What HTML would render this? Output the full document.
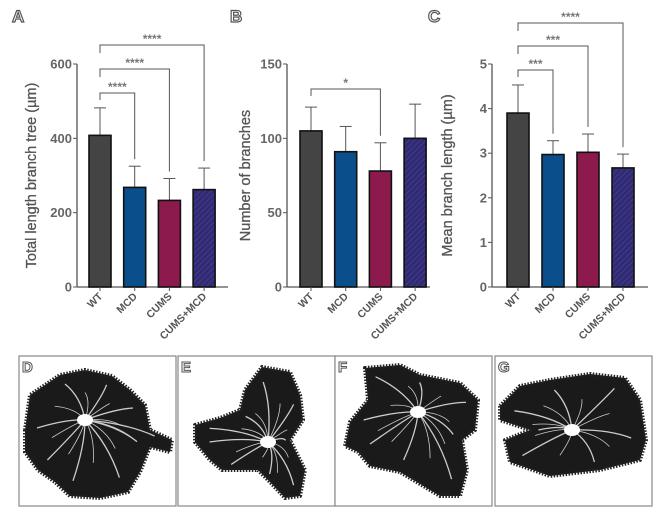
<!DOCTYPE html>
<html><head><meta charset="utf-8"><style>
html,body{margin:0;padding:0;background:#fff;}
svg{display:block;font-family:"Liberation Sans",Arial,sans-serif;}
</style></head><body>
<svg id="fig" width="671" height="521" viewBox="0 0 671 521" xmlns="http://www.w3.org/2000/svg">
<defs>
<pattern id="hatch" patternUnits="userSpaceOnUse" width="4" height="4" patternTransform="rotate(45)">
<rect width="4" height="4" fill="#2f2a72"/><line x1="0" y1="0" x2="0" y2="4" stroke="#4a3f95" stroke-width="1.5"/>
</pattern>
</defs>
<g id="charts"></g>
<g id="images"></g>
</svg>
<script>
const categories = ["WT","MCD","CUMS","CUMS+MCD"];
const colors = ["#444444","#0b4e8c","#8c1a4c","url(#hatch)"];
const valuesA = [408, 268, 233, 262];
const errorsA = [482, 325, 292, 320];
const ticksA = [0, 200, 400, 600];
const valuesB = [105, 91, 78, 100];
const errorsB = [121, 108, 97, 123];
const ticksB = [0, 50, 100, 150];
const valuesC = [3.9, 2.97, 3.02, 2.67];
const errorsC = [4.53, 3.28, 3.43, 2.98];
const ticksC = [0, 1, 2, 3, 4, 5];
const sigA = [[0,1,"****"],[0,2,"****"],[0,3,"****"]];
const sigB = [[0,2,"*"]];
const sigC = [[0,1,"***"],[0,2,"***"],[0,3,"****"]];

const NS = "http://www.w3.org/2000/svg";
function mk(tag, attrs, parent){const e=document.createElementNS(NS,tag);for(const k in attrs)e.setAttribute(k,attrs[k]);parent.appendChild(e);return e;}

const panels = [
 {id:"a",letter:"A",lx:12,ax:77,x0:89,step:34.7,bw:22,max:600,vals:valuesA,errs:errorsA,ticks:ticksA,sig:sigA,sigY:[93,69,45],axEnd:228,title:"Total length branch tree (µm)",tx:36},
 {id:"b",letter:"B",lx:230,ax:287,x0:300,step:34.7,bw:22,max:150,vals:valuesB,errs:errorsB,ticks:ticksB,sig:sigB,sigY:[89],axEnd:430,title:"Number of branches",tx:250},
 {id:"c",letter:"C",lx:428,ax:492,x0:507,step:35,bw:22,max:5,vals:valuesC,errs:errorsC,ticks:ticksC,sig:sigC,sigY:[70,46,23],axEnd:648,title:"Mean branch length (µm)",tx:452}
];
const Y0=287, YTOP=64;
const root=document.getElementById('charts');
panels.forEach(p=>{
  const g=mk('g',{},root);
  
  
  const y=v=>Y0-(v/p.max)*(Y0-YTOP);
  const bx=i=>p.x0+i*p.step;
  const L=mk('text',{x:p.lx,y:22,'font-size':17,'font-weight':'bold',fill:'#fff',stroke:'#555','stroke-width':1.2},g);L.textContent=p.letter;
  
  
  const ya=mk('line',{x1:p.ax,y1:YTOP,x2:p.ax,y2:Y0,stroke:'#555','stroke-width':1.3},g);
  
  
  const xa=mk('line',{x1:p.ax,y1:Y0,x2:p.axEnd,y2:Y0,stroke:'#555','stroke-width':1.3},g);
  
  
  p.ticks.forEach(t=>{
    mk('line',{x1:p.ax-4,y1:y(t),x2:p.ax,y2:y(t),stroke:'#555'},g);
    const tt=mk('text',{x:p.ax-5,y:y(t)+4.5,'font-size':13,'font-weight':'bold','text-anchor':'end',fill:'#666'},g);tt.textContent=t;
    
    
  });
  const ti=mk('text',{x:0,y:0,'font-size':14.5,'text-anchor':'middle',fill:'#555',stroke:'#555','stroke-width':0.3,transform:`translate(${p.tx},${(Y0+YTOP)/2}) rotate(-90)`},g);ti.textContent=p.title;
  
  
  categories.forEach((c,i)=>{
    const x=bx(i), cx=x+p.bw/2;
    const eb=mk('line',{x1:cx,y1:y(p.vals[i]),x2:cx,y2:y(p.errs[i]),stroke:'#555'},g);
    
    
    mk('line',{x1:cx-6,y1:y(p.errs[i]),x2:cx+6,y2:y(p.errs[i]),stroke:'#555'},g);
    const r=mk('rect',{x:x,y:y(p.vals[i]),width:p.bw,height:Y0-y(p.vals[i]),fill:colors[i],stroke:'#111','stroke-width':1.6},g);
    
    
    mk('line',{x1:cx,y1:Y0,x2:cx,y2:Y0+4,stroke:'#555'},g);
    const lt=mk('text',{x:0,y:0,'font-size':10.5,'text-anchor':'end',fill:'#555','font-weight':'bold',transform:`translate(${cx+3},${Y0+10}) rotate(-45)`},g);lt.textContent=c;
    
    
  });
  p.sig.forEach((s,k)=>{
    const yy=p.sigY[k], x1=bx(s[0])+p.bw/2, x2=bx(s[1])+p.bw/2;
    const yl=k===0?yy+7:yy+8;
    const yr=y(p.errs[s[1]])-7;
    const br=mk('polyline',{points:`${x1},${yl} ${x1},${yy} ${x2},${yy} ${x2},${yr}`,fill:'none',stroke:'#555','stroke-width':1},g);
    
    
    const st=mk('text',{x:(x1+x2)/2,y:yy-2,'font-size':12,'font-weight':'bold','text-anchor':'middle',fill:'#777'},g);st.textContent=s[2];
    
    
  });
});

const imgs=[
 {l:"D",x:19,blob:[[25,430],[30,395],[60,375],[85,370],[112,376],[130,390],[145,405],[150,430],[172,440],[170,452],[150,447],[140,472],[128,492],[100,498],[70,496],[55,482],[38,470],[25,452]],c:[85,420]},
 {l:"E",x:178,blob:[[195,425],[220,418],[240,410],[245,390],[262,367],[290,372],[300,395],[303,420],[290,440],[305,470],[300,496],[285,498],[270,482],[258,470],[222,470],[210,460],[195,442]],c:[268,442]},
 {l:"F",x:335,blob:[[365,368],[400,365],[420,375],[460,383],[478,400],[475,430],[462,440],[467,470],[460,496],[440,496],[400,472],[370,466],[358,452],[345,446],[350,422],[368,400]],c:[418,412]},
 {l:"G",x:495,blob:[[500,406],[520,386],[550,380],[590,374],[625,378],[640,400],[646,440],[640,460],[600,470],[550,476],[510,462],[505,440],[530,430],[500,420]],c:[572,430]}
];
const ig=document.getElementById('images');
imgs.forEach(im=>{
  const g=mk('g',{},ig);
  
  
  mk('rect',{x:im.x,y:356,width:157,height:150,fill:'#fff',stroke:'#888','stroke-width':1.2},g);
  const pts=im.blob.map(p=>p.join(',')).join(' ');
  mk('polygon',{points:pts,fill:'#1a1a1a',stroke:'#222','stroke-width':4,'stroke-dasharray':'1.5 1.5','stroke-linejoin':'round'},g);
  const [cx,cy]=im.c;
  im.blob.forEach((p,i)=>{
    const f=i%2===0?0.8:0.55;
    const mx=cx+(p[0]-cx)*f, my=cy+(p[1]-cy)*f;
    const w=i%2===0?1.3:0.8;
    mk('path',{d:`M${cx},${cy} Q${(cx+mx)/2+6},${(cy+my)/2-5} ${mx},${my}`,fill:'none',stroke:'#ccc','stroke-width':w},g);
  });
  mk('ellipse',{cx:cx,cy:cy,rx:8,ry:6,fill:'#fff'},g);
  const t=mk('text',{x:im.x+3,y:372,'font-size':15,'font-weight':'bold',fill:'#fff',stroke:'#555','stroke-width':1},g);t.textContent=im.l;
  
  
});
</script>
</body></html>
